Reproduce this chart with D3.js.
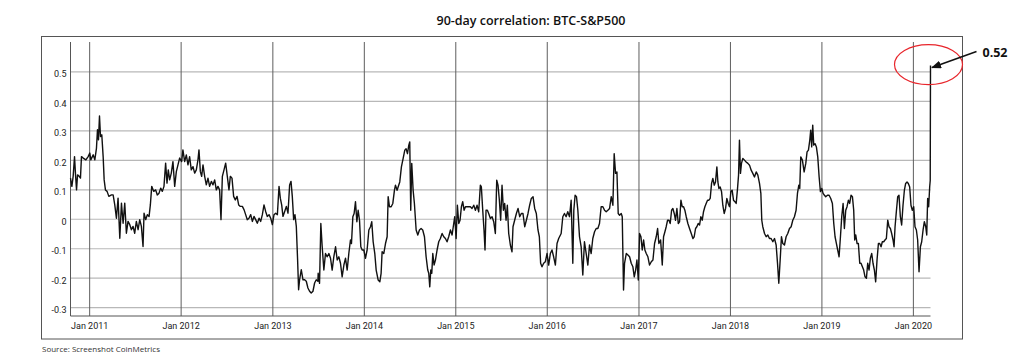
<!DOCTYPE html>
<html>
<head>
<meta charset="utf-8">
<script src="https://cdn.jsdelivr.net/npm/d3@7"></script>
<style>
  html, body { margin: 0; padding: 0; background: #fff; }
  svg { display: block; }
</style>
</head>
<body>
<script>
// ---------- DATA ----------
const chartTitle = "90-day correlation: BTC-S&P500";
const sourceNote = "Source: Screenshot CoinMetrics";
const calloutLabel = "0.52";

const yTickValues = [-0.3, -0.2, -0.1, 0, 0.1, 0.2, 0.3, 0.4, 0.5];
const xTickYears = [2011, 2012, 2013, 2014, 2015, 2016, 2017, 2018, 2019, 2020];

// decimal years
const decimalDates = [
  2010.796,2010.811,2010.825,2010.840,2010.851,2010.862,2010.873,2010.891,2010.905,2010.916,2010.935,2010.964,2010.989,2011.007,2011.018,2011.044,2011.062,2011.080,2011.091,2011.102,2011.113,2011.124,2011.138,2011.153,2011.164,2011.178,2011.196,2011.215,2011.244,2011.262,2011.280,2011.298,2011.316,2011.335,2011.353,2011.371,2011.389,2011.407,2011.425,2011.444,2011.462,2011.480,2011.498,2011.516,2011.535,2011.553,2011.571,2011.589,2011.600,2011.618,2011.636,2011.655,2011.669,2011.684,2011.705,2011.727,2011.745,2011.764,2011.782,2011.800,2011.818,2011.836,2011.851,2011.865,2011.880,2011.898,2011.916,2011.935,2011.953,2011.971,2011.989,
  2012.011,2012.025,2012.044,2012.062,2012.080,2012.098,2012.116,2012.135,2012.153,2012.171,2012.189,2012.200,2012.215,2012.229,2012.244,2012.262,2012.280,2012.298,2012.316,2012.335,2012.353,2012.371,2012.389,2012.407,2012.425,2012.440,2012.455,2012.473,2012.491,2012.509,2012.527,2012.542,2012.560,2012.578,2012.596,2012.615,2012.633,2012.651,2012.673,2012.691,2012.709,2012.727,2012.745,2012.764,2012.782,2012.800,2012.818,2012.836,2012.855,2012.873,2012.891,2012.909,2012.927,2012.945,2012.964,2012.982,
  2013.000,2013.018,2013.036,2013.055,2013.073,2013.087,2013.102,2013.116,2013.135,2013.153,2013.171,2013.189,2013.204,2013.218,2013.233,2013.247,2013.262,2013.276,2013.287,2013.298,2013.316,2013.335,2013.353,2013.371,2013.389,2013.407,2013.425,2013.444,2013.462,2013.480,2013.498,
  2013.501,2013.516,2013.530,2013.545,2013.563,2013.581,2013.599,2013.618,2013.636,2013.654,2013.672,2013.691,2013.709,2013.727,2013.745,2013.763,2013.782,2013.800,2013.818,2013.836,2013.854,2013.865,2013.880,2013.894,2013.909,2013.924,2013.938,2013.953,2013.967,2013.982,
  2014.000,2014.018,2014.036,2014.055,2014.073,2014.087,2014.102,2014.120,2014.135,2014.157,2014.175,2014.189,2014.200,2014.218,2014.237,2014.255,2014.266,2014.280,2014.299,2014.317,2014.335,2014.346,2014.364,2014.375,2014.393,2014.411,2014.430,2014.448,2014.462,2014.477,2014.492,2014.502,2014.513,2014.524,2014.539,2014.553,2014.572,2014.590,2014.608,2014.626,2014.644,2014.663,2014.681,2014.699,2014.710,2014.721,2014.732,2014.743,2014.754,2014.768,2014.783,2014.801,2014.819,2014.837,2014.856,2014.874,2014.892,2014.910,2014.928,2014.947,2014.965,2014.983,2014.994,
  2015.009,2015.023,2015.038,2015.052,2015.067,2015.081,2015.096,2015.111,2015.129,2015.147,2015.165,2015.183,2015.202,2015.220,2015.238,2015.256,2015.274,2015.285,2015.300,2015.314,2015.325,2015.336,2015.351,2015.365,2015.384,2015.402,2015.420,2015.438,2015.453,2015.467,2015.482,2015.496,2015.511,2015.526,2015.540,2015.555,2015.569,2015.584,2015.602,2015.620,2015.631,2015.649,2015.668,2015.686,2015.704,2015.722,2015.740,2015.759,2015.777,2015.795,2015.813,2015.831,2015.850,2015.868,2015.886,2015.904,2015.919,2015.933,2015.948,2015.966,2015.984,
  2016.003,2016.021,2016.039,2016.057,2016.075,2016.094,2016.112,2016.130,2016.157,2016.175,2016.193,2016.211,2016.229,2016.248,2016.266,2016.284,2016.295,2016.309,2016.324,2016.339,2016.357,2016.375,2016.393,2016.411,2016.430,2016.448,2016.466,2016.484,2016.502,2016.521,2016.539,2016.557,2016.575,2016.593,2016.612,2016.630,2016.648,2016.666,2016.685,2016.703,2016.721,2016.735,2016.750,2016.765,2016.779,2016.794,2016.812,2016.823,2016.837,2016.848,2016.867,2016.885,2016.903,2016.921,2016.939,2016.954,2016.969,2016.983,2016.998,
  2017.012,2017.027,2017.041,2017.056,2017.070,2017.085,2017.103,2017.121,2017.140,2017.158,2017.176,2017.194,2017.209,2017.223,2017.242,2017.260,2017.274,2017.289,2017.303,2017.318,2017.333,2017.347,2017.362,2017.376,2017.391,2017.405,2017.420,2017.435,2017.449,2017.464,2017.478,2017.493,2017.507,2017.522,2017.540,2017.558,2017.577,2017.595,2017.609,2017.624,2017.638,2017.653,2017.668,2017.682,2017.697,2017.711,2017.726,2017.740,2017.755,2017.770,2017.784,2017.799,2017.813,2017.828,2017.842,2017.857,2017.868,2017.879,2017.893,2017.908,2017.922,2017.937,2017.952,2017.966,2017.981,2017.995,
  2018.010,2018.024,2018.039,2018.054,2018.068,2018.083,2018.094,2018.104,2018.115,2018.126,2018.141,2018.159,2018.177,2018.196,2018.214,2018.232,2018.250,2018.268,2018.287,2018.305,2018.323,2018.338,2018.348,2018.359,2018.378,2018.396,2018.414,2018.432,2018.450,2018.469,2018.487,2018.505,2018.520,2018.534,2018.549,2018.563,2018.578,2018.596,2018.614,2018.632,2018.651,2018.669,2018.687,2018.705,2018.723,2018.738,2018.753,
  2018.763,2018.774,2018.792,2018.811,2018.829,2018.843,2018.858,2018.873,2018.883,2018.894,2018.905,2018.916,2018.931,2018.945,2018.960,2018.975,2018.989,2019.004,2019.018,2019.033,2019.047,2019.066,2019.084,2019.102,2019.120,2019.135,2019.149,2019.164,2019.178,2019.193,2019.208,2019.222,2019.237,2019.251,2019.266,2019.280,2019.295,2019.309,2019.324,2019.339,2019.353,2019.364,2019.375,2019.390,2019.404,2019.419,2019.433,2019.448,2019.462,2019.477,2019.492,2019.506,2019.521,2019.535,2019.550,2019.564,2019.579,2019.593,2019.608,2019.623,2019.637,2019.652,2019.666,2019.681,2019.695,2019.710,2019.725,2019.739,2019.754,2019.768,2019.783,2019.794,2019.805,2019.819,2019.834,2019.848,2019.863,2019.877,2019.892,2019.907,2019.921,2019.936,2019.950,2019.965,2019.979,2019.994,
  2020.009,2020.023,2020.038,2020.052,2020.067,2020.082,2020.096,2020.111,2020.125,2020.140,2020.151,2020.161,2020.172,2020.183,2020.189,2020.192
];

const correlation = [
  0.138,0.110,0.144,0.211,0.149,0.098,0.149,0.144,0.138,0.211,0.206,0.200,0.211,0.223,0.200,0.217,0.200,0.240,0.302,0.268,0.349,0.279,0.285,0.211,0.132,0.098,0.093,0.076,0.081,0.081,0.047,0.002,0.070,-0.066,0.053,-0.015,0.053,-0.049,-0.009,-0.020,-0.037,-0.026,-0.049,-0.009,-0.037,-0.003,-0.026,-0.094,0.019,-0.003,0.014,0.008,0.047,0.110,0.093,0.098,0.081,0.087,0.104,0.093,0.110,0.189,0.121,0.166,0.132,0.155,0.194,0.110,0.160,0.183,0.206,
  0.194,0.234,0.194,0.217,0.183,0.211,0.166,0.177,0.155,0.166,0.200,0.234,0.160,0.144,0.183,0.144,0.115,0.138,0.110,0.127,0.115,0.132,0.098,0.110,0.098,-0.003,0.144,0.166,0.189,0.144,0.098,0.144,0.138,0.076,0.064,0.076,0.047,0.042,0.042,0.031,0.014,-0.003,0.002,0.014,-0.009,0.008,-0.003,-0.015,0.002,-0.009,0.014,0.047,0.025,0.008,0.014,0.002,
  -0.020,0.014,0.019,0.014,0.110,0.070,0.047,0.008,0.025,0.042,0.019,0.115,0.127,0.076,-0.003,0.014,-0.026,-0.139,-0.241,-0.207,-0.173,-0.207,-0.207,-0.212,-0.235,-0.246,-0.252,-0.246,-0.218,-0.207,-0.212,
  -0.185,-0.219,-0.016,-0.095,-0.174,-0.118,-0.129,-0.118,-0.134,-0.174,-0.129,-0.095,-0.140,-0.129,-0.151,-0.197,-0.157,-0.134,-0.174,-0.118,-0.072,-0.084,0.007,0.018,0.058,-0.010,0.029,-0.005,-0.095,-0.106,
  -0.106,-0.134,-0.106,-0.038,-0.027,-0.010,-0.078,-0.118,-0.174,-0.208,-0.214,-0.185,-0.112,-0.118,-0.084,-0.061,0.075,0.041,0.041,0.052,0.097,0.114,0.097,0.108,0.125,0.176,0.205,0.233,0.238,0.221,0.250,0.261,0.029,0.188,0.097,0.052,-0.038,-0.055,-0.038,-0.033,-0.038,-0.061,-0.129,-0.174,-0.185,-0.231,-0.174,-0.185,-0.118,-0.157,-0.140,-0.106,-0.078,-0.067,-0.050,-0.061,-0.067,-0.078,-0.061,-0.038,-0.055,-0.016,0.007,
  -0.067,0.046,-0.016,-0.005,0.041,0.058,0.029,0.041,0.041,0.041,0.041,0.035,0.046,0.029,0.046,0.024,0.114,0.108,0.029,-0.038,-0.106,0.029,0.029,0.018,0.001,0.007,-0.010,-0.050,0.131,0.114,0.063,-0.005,0.114,0.029,0.052,-0.005,0.046,-0.050,-0.089,-0.112,-0.027,-0.005,0.018,0.035,0.007,0.018,0.018,-0.027,-0.005,0.018,0.046,0.069,0.075,0.035,0.018,-0.038,-0.061,-0.151,-0.163,-0.151,-0.146,
  -0.118,-0.157,-0.118,-0.106,-0.129,-0.157,-0.084,-0.067,-0.050,0.007,0.018,0.007,0.024,0.007,0.063,-0.151,0.029,0.080,0.075,0.029,-0.061,-0.095,-0.191,-0.078,-0.118,-0.157,-0.089,-0.118,-0.067,-0.044,-0.033,-0.033,-0.016,0.041,0.041,0.029,0.024,0.029,0.035,0.075,0.046,0.221,0.154,0.159,0.018,0.012,0.018,0.007,-0.242,-0.151,-0.118,-0.123,-0.129,-0.151,-0.163,-0.197,-0.174,-0.140,-0.208,
  -0.050,-0.061,-0.106,-0.072,-0.106,-0.118,-0.129,-0.157,-0.146,-0.140,-0.084,-0.061,-0.033,-0.084,-0.072,-0.157,-0.061,-0.044,-0.027,-0.005,-0.005,-0.016,0.029,0.035,0.018,-0.005,0.035,-0.016,-0.010,0.063,0.041,0.041,0.029,0.007,-0.016,-0.033,-0.050,-0.067,-0.061,-0.033,-0.027,-0.016,-0.021,0.007,-0.005,0.024,0.041,0.052,0.063,0.063,0.069,0.120,0.137,0.114,0.125,0.176,0.125,0.103,0.108,0.092,0.046,0.018,0.035,0.069,0.052,0.041,
  0.092,0.097,0.063,0.058,0.052,0.103,0.148,0.267,0.154,0.188,0.205,0.199,0.193,0.188,0.182,0.165,0.154,0.142,0.159,0.148,0.120,0.086,-0.005,-0.027,-0.050,-0.061,-0.055,-0.067,-0.067,-0.078,-0.067,-0.089,-0.151,-0.219,-0.140,-0.061,-0.084,-0.089,-0.061,-0.050,-0.033,-0.027,-0.005,0.007,0.029,0.086,0.114,
  0.103,0.210,0.199,0.159,0.188,0.227,0.233,0.267,0.301,0.244,0.318,0.250,0.255,0.244,0.210,0.142,0.092,0.103,0.086,0.080,0.075,0.080,0.080,0.069,0.052,-0.016,-0.061,-0.084,-0.106,-0.129,-0.061,0.007,0.052,-0.033,0.029,0.041,0.063,0.052,0.080,0.075,0.029,-0.072,-0.055,-0.084,-0.084,-0.151,-0.151,-0.163,-0.174,-0.197,-0.202,-0.151,-0.174,-0.134,-0.118,-0.151,-0.174,-0.214,-0.140,-0.084,-0.084,-0.095,-0.078,-0.078,-0.072,-0.067,-0.005,-0.027,-0.033,-0.050,-0.072,-0.095,-0.027,0.024,0.075,0.080,0.007,-0.021,0.046,0.097,0.120,0.125,0.120,0.108,0.046,0.029,
  0.041,-0.027,-0.038,-0.072,-0.180,-0.095,-0.078,-0.038,-0.010,-0.027,-0.055,0.069,0.041,0.108,0.130,0.520
];

// ---------- HELPERS ----------
function decToDate(y) {
  const yr = Math.floor(y);
  const a = Date.UTC(yr, 0, 1), b = Date.UTC(yr + 1, 0, 1);
  return new Date(a + (y - yr) * (b - a));
}
const n = Math.min(decimalDates.length, correlation.length);
const series = d3.range(n).map(i => ({ date: decToDate(decimalDates[i]), value: correlation[i] }));

// ---------- LAYOUT ----------
const W = 1024, H = 357;
const plot = { left: 70.5, right: 930.5, top: 42, bottom: 316 };

const svg = d3.select("body").append("svg").attr("width", W).attr("height", H);

const x = d3.scaleUtc().domain(d3.extent(series, d => d.date)).range([plot.left, plot.right]);
const y = d3.scaleLinear().domain([-0.33, 0.6]).range([plot.bottom, plot.top]);

// outer frame
svg.append("rect")
  .attr("x", 41.5).attr("y", 36.5).attr("width", 921).attr("height", 302.5)
  .attr("fill", "none").attr("stroke", "#555").attr("stroke-width", 1);

// title
svg.append("text")
  .attr("x", 531).attr("y", 25).attr("text-anchor", "middle")
  .attr("font-family", "'Open Sans', 'Noto Sans', sans-serif")
  .attr("font-weight", 600).attr("font-size", 12.5).attr("fill", "#111")
  .text(chartTitle);

// y grid + labels
const yAxis = d3.axisLeft(y)
  .tickValues(yTickValues)
  .tickSize(-(plot.right - plot.left))
  .tickPadding(4)
  .tickFormat(d => String(+d.toFixed(1)));
const gy = svg.append("g").attr("transform", `translate(${plot.left},0)`).call(yAxis);
gy.select(".domain").remove();
gy.selectAll(".tick line").attr("stroke", "#b8b8b8").attr("stroke-width", 1.2);
gy.selectAll(".tick text")
  .attr("font-family", "Roboto, sans-serif").attr("font-size", 9)
  .attr("fill", "#222").attr("dy", "0.6em");

// x grid + labels
const xAxis = d3.axisBottom(x)
  .tickValues(xTickYears.map(yr => new Date(Date.UTC(yr, 0, 1))))
  .tickSize(-(plot.bottom - plot.top))
  .tickPadding(6.5)
  .tickFormat(d3.utcFormat("Jan %Y"));
const gx = svg.append("g").attr("transform", `translate(0,${plot.bottom})`).call(xAxis);
gx.select(".domain").remove();
gx.selectAll(".tick line").attr("stroke", "#5e5e5e").attr("stroke-width", 1);
gx.selectAll(".tick text")
  .attr("font-family", "Roboto, sans-serif").attr("font-size", 9)
  .attr("fill", "#222");

// axis lines
svg.append("line")
  .attr("x1", plot.left).attr("x2", plot.left).attr("y1", plot.top).attr("y2", plot.bottom)
  .attr("stroke", "#555");
svg.append("line")
  .attr("x1", plot.left).attr("x2", plot.right).attr("y1", plot.bottom).attr("y2", plot.bottom)
  .attr("stroke", "#555");

// data line
const line = d3.line().x(d => x(d.date)).y(d => y(d.value));
svg.append("path").datum(series)
  .attr("d", line)
  .attr("fill", "none").attr("stroke", "#111").attr("stroke-width", 1.4)
  .attr("stroke-linejoin", "round");

// callout on last value
const last = series[series.length - 1];
const lx = x(last.date), ly = y(last.value);

svg.append("ellipse")
  .attr("cx", lx - 2).attr("cy", ly - 1).attr("rx", 34).attr("ry", 20)
  .attr("fill", "none").attr("stroke", "#e8252b").attr("stroke-width", 1.2);

const defs = svg.append("defs");
defs.append("marker")
  .attr("id", "arrowhead").attr("markerUnits", "userSpaceOnUse")
  .attr("markerWidth", 10).attr("markerHeight", 8)
  .attr("refX", 9).attr("refY", 4).attr("orient", "auto")
  .append("path").attr("d", "M0,0 L10,4 L0,8 Z").attr("fill", "#111");

svg.append("line")
  .attr("x1", lx + 46).attr("y1", ly - 14)
  .attr("x2", lx + 1.5).attr("y2", ly + 2)
  .attr("stroke", "#111").attr("stroke-width", 1.5)
  .attr("marker-end", "url(#arrowhead)");

svg.append("text")
  .attr("x", lx + 52).attr("y", ly - 9)
  .attr("font-family", "'Open Sans', 'Noto Sans', sans-serif")
  .attr("font-weight", 700).attr("font-size", 12.5).attr("fill", "#111")
  .text(calloutLabel);

// source note
svg.append("text")
  .attr("x", 42).attr("y", 351.5)
  .attr("font-family", "'Open Sans', 'Noto Sans', sans-serif")
  .attr("font-size", 8).attr("fill", "#333")
  .text(sourceNote);
</script>
</body>
</html>
